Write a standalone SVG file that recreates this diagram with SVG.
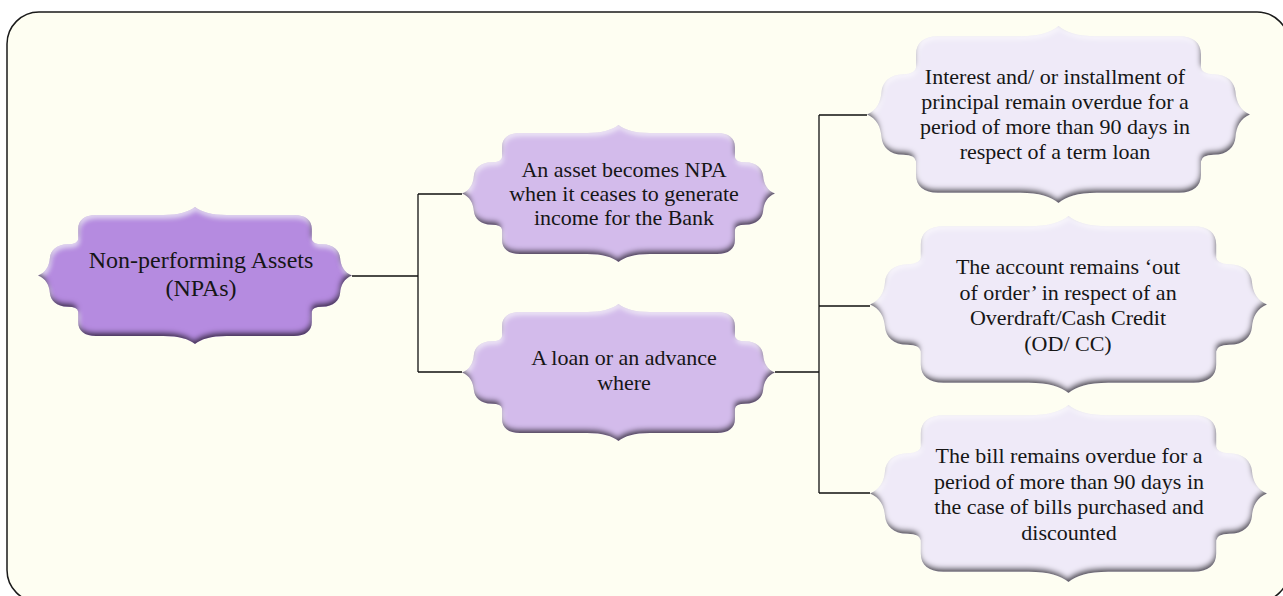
<svg xmlns="http://www.w3.org/2000/svg" xmlns:xlink="http://www.w3.org/1999/xlink" width="1283" height="596" viewBox="0 0 1283 596">
  <style>
    .frame { fill: #fefef2; stroke: #1a1a1a; stroke-width: 1.5; }
    .wire { fill: none; stroke: #111; stroke-width: 1.3; }
    .lvl1 { fill: #b58be0; }
    .lvl2 { fill: #d3bbeb; }
    .lvl3 { fill: #efeaf8; }
    text { font-family: "Liberation Serif", "DejaVu Serif", serif; fill: #161616; text-anchor: middle; }
    .t1 { font-size: 24px; }
    .t2 { font-size: 22px; }
  </style>
  <defs>
    <!-- ornamental label outline in a 1000 x 1000 box -->
    <path id="plaque" d="M500,0 C520,35 550,58 600,58 L815,58 C852,58 872,95 872,160 L872,235 Q874,272 905,272 C942,272 960,320 962,370 C964,430 975,478 1000,500 C975,522 964,570 962,630 C960,680 942,728 905,728 Q874,728 872,765 L872,840 C872,905 852,942 815,942 L600,942 C550,942 520,965 500,1000 C480,965 450,942 400,942 L185,942 C148,942 128,905 128,840 L128,765 Q126,728 95,728 C58,728 40,680 38,630 C36,570 25,522 0,500 C25,478 36,430 38,370 C40,320 58,272 95,272 Q126,272 128,235 L128,160 C128,95 148,58 185,58 L400,58 C450,58 480,35 500,0 Z"/>
    <!-- soft bevel: light rim on top, dark rim underneath -->
    <filter id="bevel" x="-5%" y="-10%" width="110%" height="120%">
      <feGaussianBlur in="SourceAlpha" stdDeviation="2.8" result="blur"/>
      <feOffset in="blur" dx="-1" dy="-4.5" result="upShift"/>
      <feComposite in="SourceAlpha" in2="upShift" operator="out" result="bottomEdge"/>
      <feFlood flood-color="#1a1024" flood-opacity="0.9"/>
      <feComposite in2="bottomEdge" operator="in" result="shade"/>
      <feOffset in="blur" dx="1" dy="3" result="downShift"/>
      <feComposite in="SourceAlpha" in2="downShift" operator="out" result="topEdge"/>
      <feFlood flood-color="#ffffff" flood-opacity="0.6"/>
      <feComposite in2="topEdge" operator="in" result="shine"/>
      <feMerge>
        <feMergeNode in="SourceGraphic"/>
        <feMergeNode in="shine"/>
        <feMergeNode in="shade"/>
      </feMerge>
    </filter>
  </defs>

  <rect class="frame" x="7" y="12" width="1282" height="590" rx="32" ry="32"/>

  <g id="connectors" class="wire">
    <path d="M352,276 H418 M418,194 V372 M418,194 H462 M418,372 H462"/>
    <path d="M775,372 H819 M819,115 V493 M819,115 H867 M819,306 H870 M819,493 H870"/>
  </g>

  <g id="node-npa">
    <g filter="url(#bevel)"><use xlink:href="#plaque" class="lvl1" transform="translate(38,207) scale(0.314,0.137)"/></g>
    <text class="t1" x="201" y="268">Non-performing Assets</text>
    <text class="t1" x="201" y="296">(NPAs)</text>
  </g>

  <g id="node-asset">
    <g filter="url(#bevel)"><use xlink:href="#plaque" class="lvl2" transform="translate(462,125) scale(0.313,0.137)"/></g>
    <text class="t2" x="624" y="177">An asset becomes NPA</text>
    <text class="t2" x="624" y="201">when it ceases to generate</text>
    <text class="t2" x="624" y="225">income for the Bank</text>
  </g>

  <g id="node-loan">
    <g filter="url(#bevel)"><use xlink:href="#plaque" class="lvl2" transform="translate(462,304) scale(0.313,0.137)"/></g>
    <text class="t2" x="624" y="365">A loan or an advance</text>
    <text class="t2" x="624" y="390">where</text>
  </g>

  <g id="node-term">
    <g filter="url(#bevel)"><use xlink:href="#plaque" class="lvl3" transform="translate(867,26) scale(0.383,0.177)"/></g>
    <text class="t2" x="1055" y="84">Interest and/ or installment of</text>
    <text class="t2" x="1055" y="109">principal remain overdue for a</text>
    <text class="t2" x="1055" y="134">period of more than 90 days in</text>
    <text class="t2" x="1055" y="159">respect of a term loan</text>
  </g>

  <g id="node-odcc">
    <g filter="url(#bevel)"><use xlink:href="#plaque" class="lvl3" transform="translate(870,216) scale(0.397,0.177)"/></g>
    <text class="t2" x="1068" y="274">The account remains ‘out</text>
    <text class="t2" x="1068" y="300">of order’ in respect of an</text>
    <text class="t2" x="1068" y="325">Overdraft/Cash Credit</text>
    <text class="t2" x="1068" y="351">(OD/ CC)</text>
  </g>

  <g id="node-bills">
    <g filter="url(#bevel)"><use xlink:href="#plaque" class="lvl3" transform="translate(870,405) scale(0.397,0.177)"/></g>
    <text class="t2" x="1069" y="463">The bill remains overdue for a</text>
    <text class="t2" x="1069" y="489">period of more than 90 days in</text>
    <text class="t2" x="1069" y="514">the case of bills purchased and</text>
    <text class="t2" x="1069" y="540">discounted</text>
  </g>
</svg>
